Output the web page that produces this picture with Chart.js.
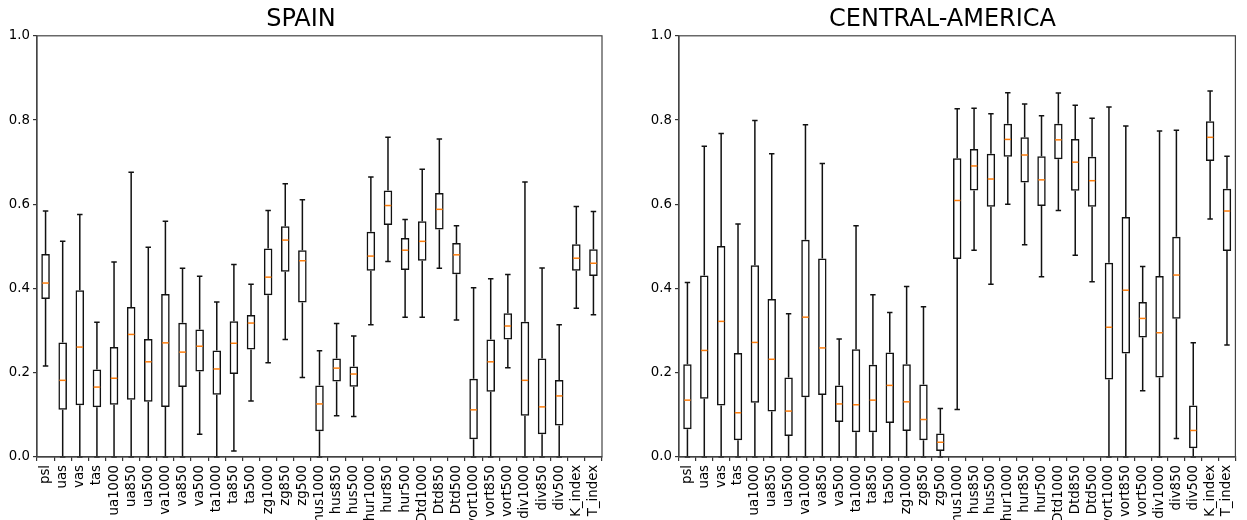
<!DOCTYPE html>
<html>
<head>
<meta charset="utf-8">
<script src="https://cdn.jsdelivr.net/npm/chart.js@4.4.1/dist/chart.umd.min.js"></script>
<style>
  html, body { margin: 0; padding: 0; background: #fff; overflow: hidden; }
  .box { position: absolute; top: 0; height: 520px; }
</style>
</head>
<body>
<div class="box" style="left:0; width:615px;"><canvas id="spainChart"></canvas></div>
<div class="box" style="left:642px; width:605px;"><canvas id="centralChart"></canvas></div>
<script>
const variables = ['psl', 'uas', 'vas', 'tas', 'ua1000', 'ua850', 'ua500', 'va1000', 'va850', 'va500',
  'ta1000', 'ta850', 'ta500', 'zg1000', 'zg850', 'zg500', 'hus1000', 'hus850', 'hus500',
  'hur1000', 'hur850', 'hur500', 'Dtd1000', 'Dtd850', 'Dtd500', 'vort1000', 'vort850', 'vort500',
  'div1000', 'div850', 'div500', 'K_index', 'T_index'];
const yTicks = [0, 0.2, 0.4, 0.6, 0.8, 1.0];

// SPAIN
const spainLow    = [0.216, 0, 0, 0, 0, 0, 0, 0, 0, 0.054, 0, 0.014, 0.133, 0.224, 0.279, 0.189, 0, 0.098, 0.096, 0.314, 0.464, 0.332, 0.332, 0.448, 0.325, 0, 0, 0.212, 0, 0, 0, 0.353, 0.338];
const spainQ1     = [0.375, 0.112, 0.123, 0.118, 0.124, 0.136, 0.131, 0.119, 0.166, 0.203, 0.148, 0.197, 0.255, 0.384, 0.440, 0.367, 0.061, 0.179, 0.167, 0.442, 0.551, 0.444, 0.466, 0.540, 0.434, 0.042, 0.155, 0.279, 0.098, 0.054, 0.075, 0.442, 0.430];
const spainMedian = [0.413, 0.182, 0.261, 0.166, 0.187, 0.291, 0.226, 0.271, 0.249, 0.263, 0.209, 0.270, 0.318, 0.427, 0.515, 0.466, 0.126, 0.211, 0.197, 0.477, 0.597, 0.491, 0.512, 0.588, 0.480, 0.112, 0.226, 0.311, 0.182, 0.119, 0.145, 0.472, 0.460];
const spainQ3     = [0.482, 0.272, 0.396, 0.208, 0.261, 0.356, 0.280, 0.387, 0.319, 0.303, 0.253, 0.322, 0.337, 0.495, 0.548, 0.491, 0.170, 0.234, 0.215, 0.535, 0.633, 0.520, 0.560, 0.627, 0.508, 0.186, 0.279, 0.341, 0.321, 0.234, 0.183, 0.505, 0.493];
const spainHigh   = [0.584, 0.512, 0.576, 0.320, 0.463, 0.676, 0.498, 0.560, 0.448, 0.429, 0.368, 0.457, 0.410, 0.585, 0.649, 0.611, 0.252, 0.317, 0.287, 0.665, 0.759, 0.564, 0.683, 0.755, 0.549, 0.402, 0.423, 0.433, 0.653, 0.449, 0.314, 0.595, 0.583];

// CENTRAL-AMERICA
const centralLow    = [0, 0, 0, 0, 0, 0, 0, 0, 0, 0, 0, 0, 0, 0, 0, 0, 0.113, 0.491, 0.410, 0.600, 0.504, 0.428, 0.585, 0.479, 0.416, 0, 0, 0.157, 0, 0.044, 0, 0.565, 0.266];
const centralQ1     = [0.066, 0.138, 0.122, 0.040, 0.129, 0.108, 0.050, 0.142, 0.147, 0.083, 0.059, 0.059, 0.081, 0.062, 0.040, 0.014, 0.470, 0.633, 0.594, 0.713, 0.652, 0.596, 0.707, 0.632, 0.594, 0.184, 0.246, 0.284, 0.189, 0.328, 0.021, 0.703, 0.489];
const centralMedian = [0.135, 0.253, 0.322, 0.105, 0.272, 0.232, 0.109, 0.332, 0.259, 0.126, 0.124, 0.135, 0.170, 0.131, 0.089, 0.035, 0.609, 0.691, 0.660, 0.754, 0.717, 0.658, 0.753, 0.700, 0.656, 0.308, 0.396, 0.329, 0.295, 0.432, 0.063, 0.759, 0.584];
const centralQ3     = [0.220, 0.431, 0.501, 0.247, 0.455, 0.375, 0.189, 0.516, 0.471, 0.170, 0.256, 0.219, 0.248, 0.220, 0.172, 0.056, 0.709, 0.731, 0.720, 0.791, 0.759, 0.714, 0.791, 0.755, 0.713, 0.461, 0.570, 0.368, 0.430, 0.523, 0.122, 0.797, 0.637];
const centralHigh   = [0.414, 0.738, 0.768, 0.553, 0.799, 0.720, 0.340, 0.789, 0.697, 0.280, 0.549, 0.385, 0.343, 0.405, 0.357, 0.115, 0.827, 0.828, 0.815, 0.865, 0.838, 0.810, 0.864, 0.835, 0.804, 0.831, 0.786, 0.452, 0.774, 0.776, 0.271, 0.869, 0.714];

const lineColor = '#111';
const medianColor = '#ff7f0e';
const fontFamily = '"DejaVu Sans", sans-serif';

// whiskers, caps, medians and the frame, placed with the chart's own scales
const boxPlotExtras = {
  id: 'boxPlotExtras',
  afterDatasetsDraw(chart, args, opts) {
    const ctx = chart.ctx;
    const x = chart.scales.x;
    const y = chart.scales.y;
    const step = x.getPixelForValue(1) - x.getPixelForValue(0);
    const boxHalf = step * 0.25;
    const capHalf = step * 0.125 + 0.6;
    ctx.save();
    ctx.lineWidth = 1.5;
    ctx.strokeStyle = lineColor;
    opts.low.forEach((lo, i) => {
      const cx = x.getPixelForValue(i);
      ctx.beginPath();
      ctx.moveTo(cx, y.getPixelForValue(opts.q3[i]));
      ctx.lineTo(cx, y.getPixelForValue(opts.high[i]));
      ctx.moveTo(cx, y.getPixelForValue(opts.q1[i]));
      ctx.lineTo(cx, y.getPixelForValue(lo));
      ctx.moveTo(cx - capHalf, y.getPixelForValue(opts.high[i]));
      ctx.lineTo(cx + capHalf, y.getPixelForValue(opts.high[i]));
      ctx.moveTo(cx - capHalf, y.getPixelForValue(lo));
      ctx.lineTo(cx + capHalf, y.getPixelForValue(lo));
      ctx.stroke();
    });
    ctx.strokeStyle = medianColor;
    opts.median.forEach((m, i) => {
      const cx = x.getPixelForValue(i);
      const py = y.getPixelForValue(m);
      ctx.beginPath();
      ctx.moveTo(cx - boxHalf + 1, py);
      ctx.lineTo(cx + boxHalf - 1, py);
      ctx.stroke();
    });
    const a = chart.chartArea;
    ctx.strokeStyle = '#444';
    ctx.lineWidth = 1.2;
    ctx.strokeRect(a.left, a.top, a.right - a.left, a.bottom - a.top);
    ctx.restore();
  }
};

function makeBoxChart(canvasId, title, low, q1, median, q3, high, rightPad) {
  const ctx = document.getElementById(canvasId).getContext('2d');
  return new Chart(ctx, {
    type: 'bar',
    data: {
      labels: variables,
      datasets: [{
        data: q1.map((v, i) => [v, q3[i]]),
        backgroundColor: 'rgba(0,0,0,0)',
        borderColor: lineColor,
        borderWidth: 1.5,
        borderSkipped: false,
        categoryPercentage: 1,
        barPercentage: 0.5
      }]
    },
    options: {
      responsive: true,
      maintainAspectRatio: false,
      animation: false,
      layout: { padding: { left: 0, right: rightPad, top: 0, bottom: 0 } },
      plugins: {
        legend: { display: false },
        tooltip: { enabled: false },
        title: {
          display: true,
          text: title,
          color: '#000',
          font: { family: fontFamily, size: 24, weight: 'normal' },
          padding: { top: 5, bottom: 2 }
        },
        boxPlotExtras: { low: low, q1: q1, median: median, q3: q3, high: high }
      },
      scales: {
        x: {
          grid: { display: true, drawOnChartArea: false, drawTicks: true, tickLength: 4, color: '#333', lineWidth: 1.2 },
          border: { display: true, color: '#444', width: 1.2 },
          ticks: {
            autoSkip: false,
            minRotation: 90,
            maxRotation: 90,
            padding: 4,
            color: '#000',
            font: { family: fontFamily, size: 13.3 }
          },
          afterFit: scale => { scale.height = 63; }
        },
        y: {
          min: 0,
          max: 1,
          afterBuildTicks: scale => { scale.ticks = yTicks.map(v => ({ value: v })); },
          grid: { display: true, drawOnChartArea: false, drawTicks: true, tickLength: 4, color: '#333', lineWidth: 1.2 },
          border: { display: true, color: '#444', width: 1.2 },
          ticks: {
            padding: 3,
            color: '#000',
            font: { family: fontFamily, size: 13.3 },
            callback: v => Number(v).toFixed(1)
          },
          afterFit: scale => { scale.width = 37; }
        }
      }
    },
    plugins: [boxPlotExtras]
  });
}

makeBoxChart('spainChart', 'SPAIN', spainLow, spainQ1, spainMedian, spainQ3, spainHigh, 13);
makeBoxChart('centralChart', 'CENTRAL-AMERICA', centralLow, centralQ1, centralMedian, centralQ3, centralHigh, 4);
</script>
</body>
</html>
